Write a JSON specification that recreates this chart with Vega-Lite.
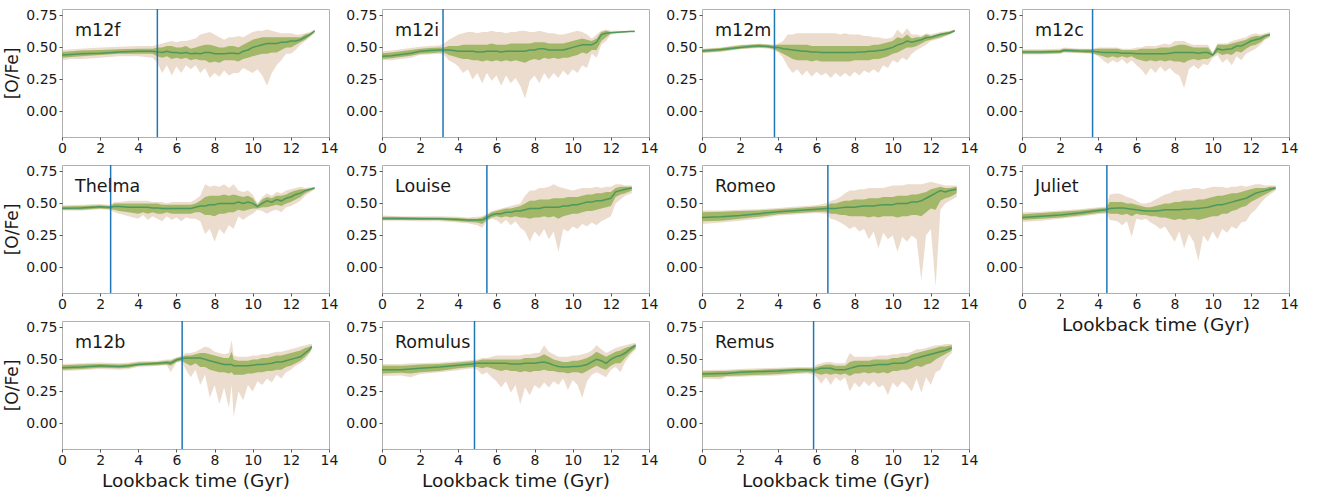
{
"$schema": "https://vega.github.io/schema/vega-lite/v6.json",
"padding": {"left": 3, "top": 7, "right": 5, "bottom": 5},
"columns": 4,
"spacing": {"row": 28, "column": 53},
"bounds": "flush",
"config": {
  "font": "DejaVu Sans",
  "view": {"stroke": "#b0b0b0", "strokeWidth": 1},
  "axis": {"labelFont": "DejaVu Sans", "labelFontSize": 14, "labelColor": "#1a1a1a", "titleFont": "DejaVu Sans", "titleFontSize": 18.5, "titleFontWeight": "normal", "titleColor": "#1a1a1a", "grid": false, "domain": false, "tickColor": "#555555", "tickSize": 3, "labelPadding": 2, "titlePadding": 4, "labelFlush": false},
  "axisY": {"titleFontSize": 17},
  "axisX": {"labelPadding": 1},
  "title": {"anchor": "start", "frame": "group", "orient": "top", "offset": -31, "dx": 13, "fontSize": 17.5, "font": "DejaVu Sans", "fontWeight": "normal", "color": "#1a1a1a", "baseline": "top"}
},
"datasets": {
"m12f": [
{"t":0,"a":0.40,"b":0.48,"c":0.42,"d":0.465,"m":0.44},{"t":0.5,"a":0.41,"b":0.485,"c":0.425,"d":0.47,"m":0.445},{"t":1,"a":0.41,"b":0.49,"c":0.43,"d":0.475,"m":0.45},{"t":2,"a":0.42,"b":0.50,"c":0.44,"d":0.48,"m":0.455},{"t":3,"a":0.43,"b":0.505,"c":0.45,"d":0.485,"m":0.465},{"t":4,"a":0.43,"b":0.51,"c":0.45,"d":0.49,"m":0.47},{"t":4.75,"a":0.42,"b":0.51,"c":0.45,"d":0.49,"m":0.47},
{"t":5,"a":0.38,"b":0.52,"c":0.43,"d":0.50,"m":0.465},{"t":5.25,"a":0.30,"b":0.53,"c":0.42,"d":0.50,"m":0.46},{"t":5.5,"a":0.36,"b":0.54,"c":0.43,"d":0.51,"m":0.47},{"t":5.75,"a":0.28,"b":0.55,"c":0.41,"d":0.51,"m":0.46},{"t":6,"a":0.35,"b":0.54,"c":0.42,"d":0.50,"m":0.46},{"t":6.25,"a":0.30,"b":0.55,"c":0.41,"d":0.50,"m":0.455},{"t":6.5,"a":0.36,"b":0.55,"c":0.42,"d":0.51,"m":0.46},{"t":6.75,"a":0.33,"b":0.56,"c":0.40,"d":0.49,"m":0.45},{"t":7,"a":0.36,"b":0.57,"c":0.41,"d":0.50,"m":0.455},{"t":7.25,"a":0.30,"b":0.60,"c":0.40,"d":0.51,"m":0.45},{"t":7.5,"a":0.34,"b":0.61,"c":0.40,"d":0.52,"m":0.46},{"t":7.75,"a":0.26,"b":0.62,"c":0.38,"d":0.52,"m":0.46},{"t":8,"a":0.30,"b":0.60,"c":0.39,"d":0.51,"m":0.45},{"t":8.25,"a":0.27,"b":0.58,"c":0.38,"d":0.50,"m":0.45},{"t":8.5,"a":0.32,"b":0.56,"c":0.40,"d":0.50,"m":0.45},{"t":8.75,"a":0.28,"b":0.58,"c":0.40,"d":0.51,"m":0.455},{"t":9,"a":0.30,"b":0.58,"c":0.40,"d":0.51,"m":0.455},{"t":9.25,"a":0.30,"b":0.59,"c":0.39,"d":0.50,"m":0.45},{"t":9.5,"a":0.34,"b":0.58,"c":0.41,"d":0.52,"m":0.47},{"t":9.75,"a":0.32,"b":0.60,"c":0.42,"d":0.54,"m":0.48},{"t":10,"a":0.30,"b":0.62,"c":0.43,"d":0.56,"m":0.50},{"t":10.25,"a":0.33,"b":0.63,"c":0.44,"d":0.57,"m":0.51},{"t":10.5,"a":0.28,"b":0.63,"c":0.45,"d":0.58,"m":0.52},{"t":10.75,"a":0.20,"b":0.64,"c":0.45,"d":0.58,"m":0.53},{"t":11,"a":0.30,"b":0.63,"c":0.46,"d":0.58,"m":0.53},{"t":11.25,"a":0.36,"b":0.62,"c":0.46,"d":0.58,"m":0.53},{"t":11.5,"a":0.40,"b":0.61,"c":0.48,"d":0.58,"m":0.54},{"t":11.75,"a":0.45,"b":0.61,"c":0.50,"d":0.58,"m":0.54},{"t":12,"a":0.45,"b":0.61,"c":0.50,"d":0.58,"m":0.55},{"t":12.25,"a":0.48,"b":0.60,"c":0.52,"d":0.58,"m":0.55},{"t":12.5,"a":0.52,"b":0.60,"c":0.54,"d":0.58,"m":0.56},{"t":12.75,"a":0.55,"b":0.61,"c":0.56,"d":0.60,"m":0.58},{"t":13,"a":0.58,"b":0.62,"c":0.59,"d":0.61,"m":0.60},{"t":13.25,"a":0.61,"b":0.64,"c":0.62,"d":0.63,"m":0.63}
],
"m12i": [
{"t":0,"a":0.40,"b":0.47,"c":0.41,"d":0.455,"m":0.43},{"t":0.5,"a":0.40,"b":0.475,"c":0.415,"d":0.46,"m":0.435},{"t":1,"a":0.41,"b":0.485,"c":0.425,"d":0.47,"m":0.445},{"t":1.5,"a":0.42,"b":0.495,"c":0.435,"d":0.48,"m":0.455},{"t":2,"a":0.44,"b":0.505,"c":0.45,"d":0.49,"m":0.47},{"t":2.5,"a":0.445,"b":0.51,"c":0.455,"d":0.495,"m":0.475},{"t":3,"a":0.45,"b":0.515,"c":0.46,"d":0.50,"m":0.48},
{"t":3.25,"a":0.44,"b":0.53,"c":0.46,"d":0.50,"m":0.48},{"t":3.5,"a":0.40,"b":0.56,"c":0.44,"d":0.51,"m":0.48},{"t":3.75,"a":0.38,"b":0.58,"c":0.43,"d":0.51,"m":0.475},{"t":4,"a":0.35,"b":0.60,"c":0.42,"d":0.51,"m":0.47},{"t":4.25,"a":0.30,"b":0.61,"c":0.41,"d":0.52,"m":0.47},{"t":4.5,"a":0.33,"b":0.62,"c":0.41,"d":0.52,"m":0.47},{"t":4.75,"a":0.25,"b":0.62,"c":0.40,"d":0.52,"m":0.47},{"t":5,"a":0.30,"b":0.61,"c":0.40,"d":0.52,"m":0.465},{"t":5.25,"a":0.22,"b":0.62,"c":0.39,"d":0.52,"m":0.465},{"t":5.5,"a":0.30,"b":0.62,"c":0.40,"d":0.52,"m":0.47},{"t":5.75,"a":0.24,"b":0.63,"c":0.39,"d":0.53,"m":0.47},{"t":6,"a":0.28,"b":0.62,"c":0.40,"d":0.52,"m":0.47},{"t":6.25,"a":0.20,"b":0.62,"c":0.39,"d":0.52,"m":0.465},{"t":6.5,"a":0.28,"b":0.61,"c":0.40,"d":0.52,"m":0.47},{"t":6.75,"a":0.22,"b":0.62,"c":0.39,"d":0.53,"m":0.47},{"t":7,"a":0.26,"b":0.62,"c":0.40,"d":0.53,"m":0.47},{"t":7.25,"a":0.20,"b":0.63,"c":0.39,"d":0.53,"m":0.47},{"t":7.5,"a":0.10,"b":0.63,"c":0.38,"d":0.53,"m":0.47},{"t":7.75,"a":0.24,"b":0.62,"c":0.40,"d":0.53,"m":0.48},{"t":8,"a":0.28,"b":0.62,"c":0.41,"d":0.54,"m":0.48},{"t":8.25,"a":0.22,"b":0.63,"c":0.40,"d":0.54,"m":0.49},{"t":8.5,"a":0.30,"b":0.62,"c":0.42,"d":0.54,"m":0.49},{"t":8.75,"a":0.25,"b":0.61,"c":0.41,"d":0.53,"m":0.48},{"t":9,"a":0.30,"b":0.61,"c":0.42,"d":0.53,"m":0.48},{"t":9.25,"a":0.26,"b":0.60,"c":0.41,"d":0.53,"m":0.48},{"t":9.5,"a":0.32,"b":0.60,"c":0.42,"d":0.53,"m":0.48},{"t":9.75,"a":0.28,"b":0.61,"c":0.42,"d":0.54,"m":0.49},{"t":10,"a":0.33,"b":0.62,"c":0.43,"d":0.55,"m":0.50},{"t":10.25,"a":0.30,"b":0.63,"c":0.44,"d":0.56,"m":0.51},{"t":10.5,"a":0.36,"b":0.62,"c":0.46,"d":0.57,"m":0.52},{"t":10.75,"a":0.34,"b":0.60,"c":0.45,"d":0.56,"m":0.52},{"t":11,"a":0.45,"b":0.57,"c":0.48,"d":0.55,"m":0.52},{"t":11.25,"a":0.42,"b":0.60,"c":0.48,"d":0.57,"m":0.54},{"t":11.5,"a":0.52,"b":0.63,"c":0.55,"d":0.62,"m":0.60},{"t":11.75,"a":0.55,"b":0.64,"c":0.58,"d":0.63,"m":0.61},{"t":12,"a":0.60,"b":0.63,"c":0.61,"d":0.62,"m":0.615},{"t":12.5,"a":0.61,"b":0.63,"c":0.615,"d":0.625,"m":0.62},{"t":13,"a":0.62,"b":0.63,"c":0.62,"d":0.63,"m":0.625},{"t":13.25,"a":0.62,"b":0.63,"c":0.62,"d":0.63,"m":0.625}
],
"m12m": [
{"t":0,"a":0.455,"b":0.49,"c":0.46,"d":0.485,"m":0.472},{"t":0.5,"a":0.46,"b":0.495,"c":0.465,"d":0.49,"m":0.478},{"t":1,"a":0.465,"b":0.50,"c":0.47,"d":0.495,"m":0.483},{"t":1.5,"a":0.475,"b":0.51,"c":0.48,"d":0.505,"m":0.492},{"t":2,"a":0.485,"b":0.52,"c":0.49,"d":0.515,"m":0.50},{"t":2.5,"a":0.49,"b":0.525,"c":0.495,"d":0.52,"m":0.507},{"t":3,"a":0.495,"b":0.53,"c":0.50,"d":0.525,"m":0.512},{"t":3.5,"a":0.49,"b":0.525,"c":0.495,"d":0.52,"m":0.507},{"t":3.75,"a":0.48,"b":0.52,"c":0.49,"d":0.515,"m":0.50},
{"t":4,"a":0.46,"b":0.53,"c":0.47,"d":0.52,"m":0.50},{"t":4.25,"a":0.42,"b":0.55,"c":0.45,"d":0.52,"m":0.49},{"t":4.5,"a":0.35,"b":0.60,"c":0.43,"d":0.52,"m":0.485},{"t":4.75,"a":0.30,"b":0.60,"c":0.41,"d":0.52,"m":0.48},{"t":5,"a":0.33,"b":0.61,"c":0.40,"d":0.52,"m":0.475},{"t":5.25,"a":0.28,"b":0.61,"c":0.40,"d":0.52,"m":0.47},{"t":5.5,"a":0.32,"b":0.61,"c":0.40,"d":0.52,"m":0.47},{"t":5.75,"a":0.27,"b":0.61,"c":0.39,"d":0.51,"m":0.465},{"t":6,"a":0.31,"b":0.61,"c":0.40,"d":0.51,"m":0.465},{"t":6.25,"a":0.28,"b":0.61,"c":0.39,"d":0.51,"m":0.46},{"t":6.5,"a":0.30,"b":0.61,"c":0.39,"d":0.51,"m":0.46},{"t":6.75,"a":0.26,"b":0.61,"c":0.39,"d":0.51,"m":0.46},{"t":7,"a":0.30,"b":0.61,"c":0.39,"d":0.51,"m":0.46},{"t":7.25,"a":0.27,"b":0.60,"c":0.39,"d":0.51,"m":0.46},{"t":7.5,"a":0.30,"b":0.61,"c":0.39,"d":0.51,"m":0.46},{"t":7.75,"a":0.27,"b":0.60,"c":0.39,"d":0.51,"m":0.46},{"t":8,"a":0.31,"b":0.60,"c":0.40,"d":0.51,"m":0.46},{"t":8.25,"a":0.28,"b":0.60,"c":0.40,"d":0.51,"m":0.465},{"t":8.5,"a":0.32,"b":0.59,"c":0.40,"d":0.51,"m":0.465},{"t":8.75,"a":0.30,"b":0.59,"c":0.40,"d":0.51,"m":0.47},{"t":9,"a":0.33,"b":0.58,"c":0.41,"d":0.52,"m":0.47},{"t":9.25,"a":0.30,"b":0.58,"c":0.41,"d":0.52,"m":0.475},{"t":9.5,"a":0.36,"b":0.57,"c":0.42,"d":0.53,"m":0.48},{"t":9.75,"a":0.34,"b":0.57,"c":0.43,"d":0.54,"m":0.49},{"t":10,"a":0.40,"b":0.58,"c":0.45,"d":0.55,"m":0.50},{"t":10.25,"a":0.38,"b":0.64,"c":0.46,"d":0.58,"m":0.52},{"t":10.5,"a":0.42,"b":0.60,"c":0.48,"d":0.57,"m":0.53},{"t":10.75,"a":0.40,"b":0.65,"c":0.50,"d":0.60,"m":0.55},{"t":11,"a":0.45,"b":0.60,"c":0.50,"d":0.57,"m":0.54},{"t":11.25,"a":0.48,"b":0.60,"c":0.51,"d":0.58,"m":0.55},{"t":11.5,"a":0.50,"b":0.59,"c":0.53,"d":0.58,"m":0.56},{"t":11.75,"a":0.52,"b":0.61,"c":0.55,"d":0.60,"m":0.575},{"t":12,"a":0.55,"b":0.60,"c":0.56,"d":0.59,"m":0.58},{"t":12.5,"a":0.57,"b":0.62,"c":0.58,"d":0.61,"m":0.60},{"t":13,"a":0.60,"b":0.63,"c":0.605,"d":0.625,"m":0.615},{"t":13.25,"a":0.62,"b":0.64,"c":0.625,"d":0.635,"m":0.63}
],
"m12c": [
{"t":0,"a":0.445,"b":0.485,"c":0.45,"d":0.475,"m":0.465},{"t":1,"a":0.445,"b":0.485,"c":0.45,"d":0.475,"m":0.465},{"t":2,"a":0.45,"b":0.49,"c":0.455,"d":0.48,"m":0.468},{"t":2.2,"a":0.46,"b":0.50,"c":0.465,"d":0.49,"m":0.478},{"t":3,"a":0.455,"b":0.49,"c":0.46,"d":0.485,"m":0.472},{"t":3.7,"a":0.45,"b":0.49,"c":0.455,"d":0.485,"m":0.47},
{"t":4,"a":0.43,"b":0.50,"c":0.44,"d":0.49,"m":0.465},{"t":4.25,"a":0.40,"b":0.50,"c":0.43,"d":0.49,"m":0.46},{"t":4.5,"a":0.37,"b":0.50,"c":0.42,"d":0.49,"m":0.46},{"t":4.75,"a":0.40,"b":0.50,"c":0.43,"d":0.49,"m":0.46},{"t":5,"a":0.38,"b":0.50,"c":0.42,"d":0.49,"m":0.46},{"t":5.25,"a":0.41,"b":0.49,"c":0.43,"d":0.48,"m":0.455},{"t":5.5,"a":0.37,"b":0.49,"c":0.42,"d":0.48,"m":0.455},{"t":5.75,"a":0.40,"b":0.49,"c":0.43,"d":0.48,"m":0.455},{"t":6,"a":0.36,"b":0.50,"c":0.41,"d":0.48,"m":0.45},{"t":6.25,"a":0.33,"b":0.50,"c":0.40,"d":0.49,"m":0.45},{"t":6.5,"a":0.28,"b":0.51,"c":0.39,"d":0.49,"m":0.45},{"t":6.75,"a":0.34,"b":0.51,"c":0.40,"d":0.49,"m":0.45},{"t":7,"a":0.30,"b":0.51,"c":0.39,"d":0.49,"m":0.45},{"t":7.25,"a":0.35,"b":0.52,"c":0.40,"d":0.50,"m":0.45},{"t":7.5,"a":0.31,"b":0.53,"c":0.39,"d":0.50,"m":0.45},{"t":7.75,"a":0.34,"b":0.52,"c":0.40,"d":0.50,"m":0.455},{"t":8,"a":0.30,"b":0.55,"c":0.39,"d":0.51,"m":0.46},{"t":8.25,"a":0.28,"b":0.55,"c":0.39,"d":0.52,"m":0.46},{"t":8.5,"a":0.18,"b":0.55,"c":0.38,"d":0.52,"m":0.46},{"t":8.75,"a":0.33,"b":0.53,"c":0.40,"d":0.51,"m":0.46},{"t":9,"a":0.36,"b":0.52,"c":0.41,"d":0.50,"m":0.46},{"t":9.25,"a":0.33,"b":0.52,"c":0.40,"d":0.50,"m":0.455},{"t":9.5,"a":0.37,"b":0.52,"c":0.41,"d":0.50,"m":0.46},{"t":9.75,"a":0.36,"b":0.52,"c":0.41,"d":0.50,"m":0.46},{"t":10,"a":0.42,"b":0.46,"c":0.43,"d":0.45,"m":0.44},{"t":10.25,"a":0.44,"b":0.53,"c":0.46,"d":0.52,"m":0.49},{"t":10.5,"a":0.38,"b":0.53,"c":0.44,"d":0.52,"m":0.48},{"t":10.75,"a":0.41,"b":0.53,"c":0.45,"d":0.52,"m":0.485},{"t":11,"a":0.36,"b":0.55,"c":0.44,"d":0.53,"m":0.49},{"t":11.25,"a":0.43,"b":0.56,"c":0.47,"d":0.54,"m":0.51},{"t":11.5,"a":0.40,"b":0.57,"c":0.46,"d":0.55,"m":0.51},{"t":11.75,"a":0.45,"b":0.58,"c":0.49,"d":0.56,"m":0.53},{"t":12,"a":0.47,"b":0.60,"c":0.51,"d":0.58,"m":0.55},{"t":12.25,"a":0.49,"b":0.61,"c":0.52,"d":0.59,"m":0.56},{"t":12.5,"a":0.52,"b":0.60,"c":0.54,"d":0.59,"m":0.57},{"t":12.75,"a":0.56,"b":0.61,"c":0.57,"d":0.60,"m":0.59},{"t":13,"a":0.58,"b":0.62,"c":0.59,"d":0.61,"m":0.60}
],
"Thelma": [
{"t":0,"a":0.445,"b":0.485,"c":0.45,"d":0.475,"m":0.463},{"t":1,"a":0.445,"b":0.49,"c":0.45,"d":0.48,"m":0.465},{"t":2,"a":0.455,"b":0.495,"c":0.46,"d":0.485,"m":0.473},{"t":2.5,"a":0.45,"b":0.49,"c":0.455,"d":0.48,"m":0.47},
{"t":2.75,"a":0.43,"b":0.51,"c":0.45,"d":0.50,"m":0.475},{"t":3,"a":0.42,"b":0.51,"c":0.44,"d":0.50,"m":0.475},{"t":3.5,"a":0.40,"b":0.52,"c":0.43,"d":0.50,"m":0.47},{"t":4,"a":0.38,"b":0.52,"c":0.42,"d":0.50,"m":0.47},{"t":4.25,"a":0.41,"b":0.52,"c":0.43,"d":0.50,"m":0.47},{"t":4.5,"a":0.37,"b":0.52,"c":0.42,"d":0.50,"m":0.47},{"t":4.75,"a":0.40,"b":0.51,"c":0.43,"d":0.50,"m":0.465},{"t":5,"a":0.38,"b":0.51,"c":0.42,"d":0.50,"m":0.465},{"t":5.25,"a":0.36,"b":0.51,"c":0.42,"d":0.49,"m":0.46},{"t":5.5,"a":0.40,"b":0.50,"c":0.43,"d":0.49,"m":0.46},{"t":5.75,"a":0.37,"b":0.51,"c":0.42,"d":0.49,"m":0.46},{"t":6,"a":0.39,"b":0.51,"c":0.42,"d":0.49,"m":0.46},{"t":6.25,"a":0.36,"b":0.51,"c":0.42,"d":0.49,"m":0.46},{"t":6.5,"a":0.39,"b":0.51,"c":0.42,"d":0.49,"m":0.46},{"t":6.75,"a":0.38,"b":0.51,"c":0.42,"d":0.49,"m":0.46},{"t":7,"a":0.38,"b":0.53,"c":0.43,"d":0.50,"m":0.47},{"t":7.25,"a":0.36,"b":0.56,"c":0.43,"d":0.52,"m":0.48},{"t":7.5,"a":0.26,"b":0.65,"c":0.41,"d":0.55,"m":0.48},{"t":7.75,"a":0.30,"b":0.63,"c":0.41,"d":0.56,"m":0.49},{"t":8,"a":0.20,"b":0.64,"c":0.40,"d":0.56,"m":0.49},{"t":8.25,"a":0.30,"b":0.63,"c":0.42,"d":0.56,"m":0.50},{"t":8.5,"a":0.26,"b":0.65,"c":0.42,"d":0.57,"m":0.50},{"t":8.75,"a":0.33,"b":0.62,"c":0.43,"d":0.56,"m":0.50},{"t":9,"a":0.30,"b":0.65,"c":0.43,"d":0.57,"m":0.50},{"t":9.25,"a":0.40,"b":0.60,"c":0.45,"d":0.56,"m":0.51},{"t":9.5,"a":0.37,"b":0.59,"c":0.44,"d":0.55,"m":0.50},{"t":9.75,"a":0.40,"b":0.60,"c":0.45,"d":0.56,"m":0.51},{"t":10,"a":0.42,"b":0.57,"c":0.46,"d":0.54,"m":0.50},{"t":10.25,"a":0.45,"b":0.50,"c":0.46,"d":0.49,"m":0.475},{"t":10.5,"a":0.44,"b":0.55,"c":0.47,"d":0.53,"m":0.50},{"t":10.75,"a":0.42,"b":0.58,"c":0.47,"d":0.55,"m":0.52},{"t":11,"a":0.44,"b":0.56,"c":0.48,"d":0.54,"m":0.51},{"t":11.25,"a":0.45,"b":0.59,"c":0.49,"d":0.56,"m":0.53},{"t":11.5,"a":0.43,"b":0.58,"c":0.48,"d":0.56,"m":0.52},{"t":11.75,"a":0.47,"b":0.60,"c":0.50,"d":0.57,"m":0.54},{"t":12,"a":0.48,"b":0.61,"c":0.51,"d":0.59,"m":0.55},{"t":12.25,"a":0.50,"b":0.62,"c":0.53,"d":0.60,"m":0.57},{"t":12.5,"a":0.52,"b":0.63,"c":0.55,"d":0.61,"m":0.58},{"t":12.75,"a":0.56,"b":0.62,"c":0.58,"d":0.61,"m":0.60},{"t":13.25,"a":0.61,"b":0.63,"c":0.615,"d":0.625,"m":0.62}
],
"Louise": [
{"t":0,"a":0.365,"b":0.405,"c":0.37,"d":0.395,"m":0.383},{"t":1,"a":0.365,"b":0.40,"c":0.37,"d":0.393,"m":0.382},{"t":2,"a":0.36,"b":0.40,"c":0.37,"d":0.392,"m":0.381},{"t":3,"a":0.36,"b":0.40,"c":0.37,"d":0.39,"m":0.38},{"t":4,"a":0.35,"b":0.395,"c":0.36,"d":0.385,"m":0.375},{"t":4.5,"a":0.345,"b":0.39,"c":0.355,"d":0.38,"m":0.37},{"t":5,"a":0.33,"b":0.395,"c":0.35,"d":0.38,"m":0.37},{"t":5.25,"a":0.31,"b":0.40,"c":0.34,"d":0.39,"m":0.37},
{"t":5.5,"a":0.36,"b":0.42,"c":0.37,"d":0.41,"m":0.39},{"t":5.75,"a":0.38,"b":0.44,"c":0.39,"d":0.43,"m":0.41},{"t":6,"a":0.37,"b":0.45,"c":0.40,"d":0.44,"m":0.42},{"t":6.25,"a":0.34,"b":0.46,"c":0.39,"d":0.45,"m":0.42},{"t":6.5,"a":0.37,"b":0.47,"c":0.40,"d":0.46,"m":0.43},{"t":6.75,"a":0.33,"b":0.48,"c":0.39,"d":0.46,"m":0.43},{"t":7,"a":0.36,"b":0.49,"c":0.40,"d":0.47,"m":0.44},{"t":7.25,"a":0.31,"b":0.50,"c":0.39,"d":0.48,"m":0.44},{"t":7.5,"a":0.28,"b":0.56,"c":0.39,"d":0.50,"m":0.45},{"t":7.75,"a":0.20,"b":0.60,"c":0.38,"d":0.52,"m":0.46},{"t":8,"a":0.28,"b":0.60,"c":0.39,"d":0.52,"m":0.46},{"t":8.25,"a":0.24,"b":0.62,"c":0.39,"d":0.53,"m":0.46},{"t":8.5,"a":0.30,"b":0.62,"c":0.40,"d":0.53,"m":0.47},{"t":8.75,"a":0.22,"b":0.63,"c":0.39,"d":0.53,"m":0.47},{"t":9,"a":0.28,"b":0.65,"c":0.40,"d":0.54,"m":0.47},{"t":9.25,"a":0.12,"b":0.63,"c":0.38,"d":0.54,"m":0.47},{"t":9.5,"a":0.30,"b":0.62,"c":0.40,"d":0.54,"m":0.48},{"t":9.75,"a":0.28,"b":0.61,"c":0.41,"d":0.55,"m":0.48},{"t":10,"a":0.32,"b":0.60,"c":0.42,"d":0.55,"m":0.49},{"t":10.25,"a":0.30,"b":0.61,"c":0.42,"d":0.55,"m":0.49},{"t":10.5,"a":0.34,"b":0.62,"c":0.43,"d":0.56,"m":0.50},{"t":10.75,"a":0.32,"b":0.62,"c":0.44,"d":0.57,"m":0.51},{"t":11,"a":0.35,"b":0.62,"c":0.44,"d":0.57,"m":0.51},{"t":11.25,"a":0.33,"b":0.63,"c":0.45,"d":0.58,"m":0.52},{"t":11.5,"a":0.36,"b":0.62,"c":0.46,"d":0.58,"m":0.52},{"t":11.75,"a":0.38,"b":0.63,"c":0.47,"d":0.59,"m":0.53},{"t":12,"a":0.40,"b":0.63,"c":0.48,"d":0.59,"m":0.54},{"t":12.25,"a":0.50,"b":0.65,"c":0.55,"d":0.62,"m":0.59},{"t":12.5,"a":0.53,"b":0.65,"c":0.57,"d":0.63,"m":0.60},{"t":12.75,"a":0.56,"b":0.64,"c":0.58,"d":0.63,"m":0.61},{"t":13.1,"a":0.58,"b":0.64,"c":0.60,"d":0.63,"m":0.62}
],
"Romeo": [
{"t":0,"a":0.34,"b":0.445,"c":0.36,"d":0.43,"m":0.39},{"t":1,"a":0.35,"b":0.445,"c":0.365,"d":0.435,"m":0.395},{"t":2,"a":0.365,"b":0.45,"c":0.38,"d":0.44,"m":0.405},{"t":3,"a":0.38,"b":0.455,"c":0.395,"d":0.445,"m":0.42},{"t":4,"a":0.405,"b":0.465,"c":0.415,"d":0.455,"m":0.435},{"t":5,"a":0.415,"b":0.475,"c":0.425,"d":0.465,"m":0.445},{"t":6,"a":0.425,"b":0.485,"c":0.435,"d":0.475,"m":0.455},{"t":6.5,"a":0.42,"b":0.50,"c":0.435,"d":0.48,"m":0.46},
{"t":6.75,"a":0.38,"b":0.52,"c":0.42,"d":0.50,"m":0.46},{"t":7,"a":0.37,"b":0.53,"c":0.42,"d":0.50,"m":0.46},{"t":7.25,"a":0.35,"b":0.55,"c":0.41,"d":0.51,"m":0.465},{"t":7.5,"a":0.33,"b":0.58,"c":0.41,"d":0.52,"m":0.47},{"t":7.75,"a":0.30,"b":0.60,"c":0.40,"d":0.52,"m":0.47},{"t":8,"a":0.32,"b":0.60,"c":0.40,"d":0.53,"m":0.47},{"t":8.25,"a":0.28,"b":0.61,"c":0.40,"d":0.53,"m":0.475},{"t":8.5,"a":0.30,"b":0.61,"c":0.40,"d":0.53,"m":0.48},{"t":8.75,"a":0.22,"b":0.62,"c":0.39,"d":0.54,"m":0.48},{"t":9,"a":0.28,"b":0.62,"c":0.40,"d":0.54,"m":0.48},{"t":9.25,"a":0.15,"b":0.62,"c":0.39,"d":0.54,"m":0.485},{"t":9.5,"a":0.27,"b":0.62,"c":0.40,"d":0.55,"m":0.49},{"t":9.75,"a":0.22,"b":0.63,"c":0.40,"d":0.55,"m":0.49},{"t":10,"a":0.25,"b":0.64,"c":0.40,"d":0.55,"m":0.49},{"t":10.25,"a":0.12,"b":0.64,"c":0.39,"d":0.56,"m":0.50},{"t":10.5,"a":0.24,"b":0.64,"c":0.40,"d":0.56,"m":0.50},{"t":10.75,"a":0.20,"b":0.65,"c":0.40,"d":0.56,"m":0.50},{"t":11,"a":0.25,"b":0.65,"c":0.41,"d":0.57,"m":0.51},{"t":11.25,"a":0.22,"b":0.65,"c":0.41,"d":0.57,"m":0.51},{"t":11.5,"a":-0.10,"b":0.65,"c":0.40,"d":0.58,"m":0.52},{"t":11.75,"a":0.25,"b":0.66,"c":0.43,"d":0.59,"m":0.54},{"t":12,"a":0.30,"b":0.67,"c":0.46,"d":0.61,"m":0.56},{"t":12.25,"a":-0.15,"b":0.66,"c":0.45,"d":0.62,"m":0.58},{"t":12.5,"a":0.45,"b":0.65,"c":0.52,"d":0.63,"m":0.60},{"t":12.75,"a":0.50,"b":0.64,"c":0.54,"d":0.62,"m":0.59},{"t":13,"a":0.52,"b":0.64,"c":0.55,"d":0.62,"m":0.60},{"t":13.35,"a":0.55,"b":0.64,"c":0.58,"d":0.63,"m":0.61}
],
"Juliet": [
{"t":0,"a":0.355,"b":0.43,"c":0.37,"d":0.415,"m":0.39},{"t":1,"a":0.365,"b":0.435,"c":0.38,"d":0.425,"m":0.40},{"t":2,"a":0.38,"b":0.445,"c":0.39,"d":0.435,"m":0.41},{"t":3,"a":0.395,"b":0.455,"c":0.405,"d":0.445,"m":0.425},{"t":4,"a":0.415,"b":0.47,"c":0.425,"d":0.46,"m":0.445},{"t":4.4,"a":0.42,"b":0.475,"c":0.43,"d":0.465,"m":0.45},
{"t":4.6,"a":0.37,"b":0.57,"c":0.42,"d":0.51,"m":0.46},{"t":5,"a":0.36,"b":0.58,"c":0.42,"d":0.51,"m":0.465},{"t":5.25,"a":0.33,"b":0.57,"c":0.41,"d":0.51,"m":0.465},{"t":5.5,"a":0.36,"b":0.55,"c":0.42,"d":0.50,"m":0.46},{"t":5.75,"a":0.24,"b":0.54,"c":0.40,"d":0.50,"m":0.455},{"t":6,"a":0.38,"b":0.52,"c":0.42,"d":0.49,"m":0.45},{"t":6.25,"a":0.37,"b":0.50,"c":0.41,"d":0.48,"m":0.445},{"t":6.5,"a":0.38,"b":0.50,"c":0.41,"d":0.47,"m":0.44},{"t":6.75,"a":0.35,"b":0.51,"c":0.40,"d":0.47,"m":0.44},{"t":7,"a":0.33,"b":0.53,"c":0.40,"d":0.48,"m":0.44},{"t":7.25,"a":0.30,"b":0.55,"c":0.39,"d":0.49,"m":0.445},{"t":7.5,"a":0.32,"b":0.57,"c":0.39,"d":0.50,"m":0.45},{"t":7.75,"a":0.26,"b":0.58,"c":0.38,"d":0.50,"m":0.45},{"t":8,"a":0.20,"b":0.60,"c":0.37,"d":0.51,"m":0.45},{"t":8.25,"a":0.28,"b":0.60,"c":0.38,"d":0.51,"m":0.45},{"t":8.5,"a":0.15,"b":0.61,"c":0.37,"d":0.52,"m":0.455},{"t":8.75,"a":0.26,"b":0.61,"c":0.38,"d":0.52,"m":0.455},{"t":9,"a":0.20,"b":0.62,"c":0.38,"d":0.52,"m":0.46},{"t":9.25,"a":0.05,"b":0.62,"c":0.37,"d":0.53,"m":0.46},{"t":9.5,"a":0.25,"b":0.61,"c":0.38,"d":0.53,"m":0.465},{"t":9.75,"a":0.20,"b":0.62,"c":0.39,"d":0.54,"m":0.47},{"t":10,"a":0.28,"b":0.63,"c":0.40,"d":0.55,"m":0.48},{"t":10.25,"a":0.22,"b":0.63,"c":0.40,"d":0.56,"m":0.49},{"t":10.5,"a":0.30,"b":0.63,"c":0.42,"d":0.56,"m":0.49},{"t":10.75,"a":0.27,"b":0.62,"c":0.42,"d":0.57,"m":0.50},{"t":11,"a":0.32,"b":0.63,"c":0.44,"d":0.58,"m":0.51},{"t":11.25,"a":0.30,"b":0.63,"c":0.45,"d":0.58,"m":0.52},{"t":11.5,"a":0.35,"b":0.64,"c":0.47,"d":0.59,"m":0.53},{"t":11.75,"a":0.36,"b":0.63,"c":0.48,"d":0.60,"m":0.54},{"t":12,"a":0.42,"b":0.64,"c":0.51,"d":0.61,"m":0.56},{"t":12.25,"a":0.45,"b":0.65,"c":0.53,"d":0.62,"m":0.58},{"t":12.5,"a":0.50,"b":0.65,"c":0.55,"d":0.62,"m":0.59},{"t":12.75,"a":0.54,"b":0.64,"c":0.57,"d":0.62,"m":0.60},{"t":13,"a":0.57,"b":0.64,"c":0.59,"d":0.63,"m":0.61},{"t":13.3,"a":0.60,"b":0.64,"c":0.61,"d":0.63,"m":0.62}
],
"m12b": [
{"t":0,"a":0.41,"b":0.465,"c":0.42,"d":0.455,"m":0.435},{"t":1,"a":0.415,"b":0.47,"c":0.425,"d":0.46,"m":0.44},{"t":2,"a":0.425,"b":0.475,"c":0.435,"d":0.465,"m":0.45},{"t":3,"a":0.42,"b":0.47,"c":0.43,"d":0.46,"m":0.445},{"t":3.5,"a":0.425,"b":0.475,"c":0.435,"d":0.465,"m":0.45},{"t":4,"a":0.44,"b":0.485,"c":0.45,"d":0.475,"m":0.46},{"t":5,"a":0.45,"b":0.49,"c":0.455,"d":0.48,"m":0.47},{"t":5.5,"a":0.455,"b":0.50,"c":0.46,"d":0.49,"m":0.475},{"t":5.7,"a":0.40,"b":0.50,"c":0.45,"d":0.49,"m":0.47},{"t":6,"a":0.475,"b":0.515,"c":0.48,"d":0.51,"m":0.495},{"t":6.25,"a":0.485,"b":0.525,"c":0.49,"d":0.52,"m":0.505},
{"t":6.5,"a":0.42,"b":0.55,"c":0.47,"d":0.53,"m":0.51},{"t":6.75,"a":0.36,"b":0.55,"c":0.45,"d":0.53,"m":0.51},{"t":7,"a":0.42,"b":0.56,"c":0.47,"d":0.54,"m":0.51},{"t":7.25,"a":0.30,"b":0.58,"c":0.44,"d":0.55,"m":0.51},{"t":7.5,"a":0.38,"b":0.60,"c":0.44,"d":0.55,"m":0.50},{"t":7.75,"a":0.20,"b":0.59,"c":0.42,"d":0.54,"m":0.49},{"t":8,"a":0.30,"b":0.56,"c":0.41,"d":0.53,"m":0.48},{"t":8.25,"a":0.15,"b":0.55,"c":0.40,"d":0.52,"m":0.47},{"t":8.5,"a":0.28,"b":0.54,"c":0.40,"d":0.51,"m":0.46},{"t":8.75,"a":0.12,"b":0.55,"c":0.39,"d":0.51,"m":0.46},{"t":8.9,"a":0.30,"b":0.65,"c":0.40,"d":0.56,"m":0.46},{"t":9,"a":0.05,"b":0.53,"c":0.38,"d":0.50,"m":0.45},{"t":9.25,"a":0.25,"b":0.52,"c":0.38,"d":0.49,"m":0.45},{"t":9.5,"a":0.18,"b":0.52,"c":0.38,"d":0.49,"m":0.45},{"t":9.75,"a":0.30,"b":0.52,"c":0.39,"d":0.49,"m":0.45},{"t":10,"a":0.25,"b":0.53,"c":0.39,"d":0.50,"m":0.455},{"t":10.25,"a":0.33,"b":0.53,"c":0.40,"d":0.50,"m":0.46},{"t":10.5,"a":0.30,"b":0.54,"c":0.40,"d":0.51,"m":0.46},{"t":10.75,"a":0.35,"b":0.54,"c":0.41,"d":0.51,"m":0.465},{"t":11,"a":0.32,"b":0.55,"c":0.41,"d":0.52,"m":0.47},{"t":11.25,"a":0.38,"b":0.56,"c":0.42,"d":0.53,"m":0.48},{"t":11.5,"a":0.35,"b":0.56,"c":0.42,"d":0.53,"m":0.48},{"t":11.75,"a":0.40,"b":0.57,"c":0.44,"d":0.54,"m":0.49},{"t":12,"a":0.42,"b":0.58,"c":0.45,"d":0.55,"m":0.50},{"t":12.25,"a":0.45,"b":0.59,"c":0.47,"d":0.56,"m":0.51},{"t":12.5,"a":0.47,"b":0.60,"c":0.49,"d":0.57,"m":0.52},{"t":12.75,"a":0.50,"b":0.61,"c":0.52,"d":0.59,"m":0.55},{"t":13,"a":0.55,"b":0.62,"c":0.56,"d":0.60,"m":0.58},{"t":13.1,"a":0.58,"b":0.62,"c":0.59,"d":0.61,"m":0.60}
],
"Romulus": [
{"t":0,"a":0.37,"b":0.465,"c":0.39,"d":0.45,"m":0.42},{"t":1,"a":0.375,"b":0.465,"c":0.395,"d":0.45,"m":0.42},{"t":1.5,"a":0.36,"b":0.47,"c":0.39,"d":0.455,"m":0.425},{"t":2,"a":0.385,"b":0.47,"c":0.40,"d":0.46,"m":0.43},{"t":3,"a":0.40,"b":0.475,"c":0.41,"d":0.465,"m":0.44},{"t":4,"a":0.415,"b":0.485,"c":0.43,"d":0.475,"m":0.455},{"t":4.75,"a":0.43,"b":0.495,"c":0.44,"d":0.485,"m":0.465},
{"t":5,"a":0.42,"b":0.50,"c":0.44,"d":0.49,"m":0.47},{"t":5.25,"a":0.38,"b":0.51,"c":0.43,"d":0.50,"m":0.47},{"t":5.5,"a":0.40,"b":0.51,"c":0.44,"d":0.50,"m":0.47},{"t":5.75,"a":0.36,"b":0.52,"c":0.43,"d":0.50,"m":0.47},{"t":6,"a":0.33,"b":0.53,"c":0.42,"d":0.50,"m":0.47},{"t":6.25,"a":0.28,"b":0.53,"c":0.41,"d":0.50,"m":0.47},{"t":6.5,"a":0.33,"b":0.53,"c":0.42,"d":0.50,"m":0.47},{"t":6.75,"a":0.24,"b":0.53,"c":0.41,"d":0.50,"m":0.465},{"t":7,"a":0.30,"b":0.53,"c":0.41,"d":0.50,"m":0.465},{"t":7.25,"a":0.15,"b":0.53,"c":0.40,"d":0.50,"m":0.465},{"t":7.5,"a":0.28,"b":0.54,"c":0.41,"d":0.51,"m":0.47},{"t":7.75,"a":0.22,"b":0.54,"c":0.40,"d":0.51,"m":0.47},{"t":8,"a":0.30,"b":0.55,"c":0.41,"d":0.51,"m":0.47},{"t":8.25,"a":0.27,"b":0.55,"c":0.41,"d":0.52,"m":0.475},{"t":8.5,"a":0.32,"b":0.61,"c":0.42,"d":0.54,"m":0.48},{"t":8.75,"a":0.28,"b":0.56,"c":0.41,"d":0.52,"m":0.47},{"t":9,"a":0.33,"b":0.54,"c":0.41,"d":0.50,"m":0.455},{"t":9.25,"a":0.30,"b":0.52,"c":0.40,"d":0.49,"m":0.445},{"t":9.5,"a":0.35,"b":0.52,"c":0.40,"d":0.48,"m":0.44},{"t":9.75,"a":0.26,"b":0.52,"c":0.39,"d":0.48,"m":0.44},{"t":10,"a":0.34,"b":0.53,"c":0.40,"d":0.49,"m":0.445},{"t":10.25,"a":0.30,"b":0.53,"c":0.40,"d":0.49,"m":0.445},{"t":10.5,"a":0.20,"b":0.54,"c":0.39,"d":0.50,"m":0.45},{"t":10.75,"a":0.33,"b":0.55,"c":0.41,"d":0.51,"m":0.46},{"t":11,"a":0.38,"b":0.57,"c":0.43,"d":0.53,"m":0.48},{"t":11.25,"a":0.40,"b":0.61,"c":0.45,"d":0.56,"m":0.50},{"t":11.5,"a":0.38,"b":0.58,"c":0.43,"d":0.54,"m":0.49},{"t":11.75,"a":0.36,"b":0.55,"c":0.42,"d":0.52,"m":0.47},{"t":12,"a":0.42,"b":0.57,"c":0.45,"d":0.54,"m":0.50},{"t":12.25,"a":0.44,"b":0.59,"c":0.47,"d":0.56,"m":0.52},{"t":12.5,"a":0.40,"b":0.60,"c":0.47,"d":0.57,"m":0.53},{"t":12.75,"a":0.48,"b":0.61,"c":0.51,"d":0.59,"m":0.55},{"t":13,"a":0.53,"b":0.62,"c":0.55,"d":0.60,"m":0.58},{"t":13.3,"a":0.58,"b":0.63,"c":0.59,"d":0.62,"m":0.61}
],
"Remus": [
{"t":0,"a":0.35,"b":0.415,"c":0.36,"d":0.405,"m":0.385},{"t":1,"a":0.345,"b":0.42,"c":0.365,"d":0.41,"m":0.39},{"t":1.25,"a":0.36,"b":0.42,"c":0.37,"d":0.41,"m":0.39},{"t":2,"a":0.365,"b":0.425,"c":0.375,"d":0.415,"m":0.40},{"t":3,"a":0.37,"b":0.43,"c":0.38,"d":0.42,"m":0.405},{"t":4,"a":0.375,"b":0.435,"c":0.385,"d":0.425,"m":0.41},{"t":5,"a":0.385,"b":0.44,"c":0.395,"d":0.43,"m":0.42},{"t":5.5,"a":0.39,"b":0.44,"c":0.40,"d":0.43,"m":0.42},{"t":5.85,"a":0.38,"b":0.44,"c":0.395,"d":0.43,"m":0.415},
{"t":6,"a":0.36,"b":0.46,"c":0.39,"d":0.44,"m":0.42},{"t":6.25,"a":0.31,"b":0.47,"c":0.38,"d":0.45,"m":0.43},{"t":6.5,"a":0.36,"b":0.48,"c":0.39,"d":0.46,"m":0.43},{"t":6.75,"a":0.30,"b":0.48,"c":0.38,"d":0.46,"m":0.43},{"t":7,"a":0.36,"b":0.47,"c":0.39,"d":0.45,"m":0.42},{"t":7.25,"a":0.33,"b":0.47,"c":0.38,"d":0.45,"m":0.42},{"t":7.5,"a":0.36,"b":0.47,"c":0.39,"d":0.45,"m":0.42},{"t":7.75,"a":0.25,"b":0.55,"c":0.37,"d":0.48,"m":0.43},{"t":8,"a":0.32,"b":0.52,"c":0.39,"d":0.49,"m":0.44},{"t":8.25,"a":0.28,"b":0.52,"c":0.39,"d":0.49,"m":0.45},{"t":8.5,"a":0.33,"b":0.52,"c":0.40,"d":0.49,"m":0.45},{"t":8.75,"a":0.29,"b":0.52,"c":0.39,"d":0.49,"m":0.45},{"t":9,"a":0.33,"b":0.52,"c":0.40,"d":0.50,"m":0.455},{"t":9.25,"a":0.28,"b":0.53,"c":0.39,"d":0.50,"m":0.46},{"t":9.5,"a":0.30,"b":0.53,"c":0.40,"d":0.50,"m":0.46},{"t":9.75,"a":0.22,"b":0.53,"c":0.39,"d":0.50,"m":0.46},{"t":10,"a":0.32,"b":0.54,"c":0.41,"d":0.51,"m":0.47},{"t":10.25,"a":0.28,"b":0.54,"c":0.41,"d":0.51,"m":0.47},{"t":10.5,"a":0.33,"b":0.55,"c":0.42,"d":0.52,"m":0.47},{"t":10.75,"a":0.30,"b":0.55,"c":0.42,"d":0.52,"m":0.48},{"t":11,"a":0.25,"b":0.56,"c":0.43,"d":0.54,"m":0.50},{"t":11.25,"a":0.35,"b":0.58,"c":0.45,"d":0.55,"m":0.51},{"t":11.5,"a":0.24,"b":0.58,"c":0.44,"d":0.56,"m":0.52},{"t":11.75,"a":0.36,"b":0.59,"c":0.46,"d":0.57,"m":0.53},{"t":12,"a":0.30,"b":0.60,"c":0.47,"d":0.58,"m":0.54},{"t":12.25,"a":0.40,"b":0.61,"c":0.50,"d":0.59,"m":0.55},{"t":12.5,"a":0.42,"b":0.61,"c":0.52,"d":0.60,"m":0.56},{"t":12.75,"a":0.50,"b":0.62,"c":0.54,"d":0.60,"m":0.57},{"t":13.1,"a":0.55,"b":0.62,"c":0.57,"d":0.61,"m":0.59}
]
},
"concat": [
{"width":267,"height":128,"title":"m12f","encoding":{"x":{"field":"t","type":"quantitative","scale":{"domain":[0,14]},"axis":{"values":[0,2,4,6,8,10,12,14],"format":"d","title":null,"labelOverlap":false}}},"layer":[
  {"data":{"name":"m12f"},"mark":{"type":"area","color":"#d0a882","opacity":0.4},"encoding":{"y":{"field":"a","type":"quantitative","scale":{"domain":[-0.2,0.8]},"axis":{"values":[0,0.25,0.5,0.75],"format":".2f","title":"[O/Fe]"}},"y2":{"field":"b"}}},
  {"data":{"name":"m12f"},"mark":{"type":"area","color":"#95b055","opacity":0.85},"encoding":{"y":{"field":"c","type":"quantitative"},"y2":{"field":"d"}}},
  {"data":{"name":"m12f"},"mark":{"type":"line","color":"#2a8a5a","strokeWidth":1.5,"opacity":0.7},"encoding":{"y":{"field":"m","type":"quantitative"}}},
  {"data":{"values":[{"t":5.0}]},"mark":{"type":"rule","color":"#1f77b4","strokeWidth":1.5},"encoding":{}}
 ]},
{"width":267,"height":128,"title":"m12i","encoding":{"x":{"field":"t","type":"quantitative","scale":{"domain":[0,14]},"axis":{"values":[0,2,4,6,8,10,12,14],"format":"d","title":null,"labelOverlap":false}}},"layer":[
  {"data":{"name":"m12i"},"mark":{"type":"area","color":"#d0a882","opacity":0.4},"encoding":{"y":{"field":"a","type":"quantitative","scale":{"domain":[-0.2,0.8]},"axis":{"values":[0,0.25,0.5,0.75],"format":".2f","title":null}},"y2":{"field":"b"}}},
  {"data":{"name":"m12i"},"mark":{"type":"area","color":"#95b055","opacity":0.85},"encoding":{"y":{"field":"c","type":"quantitative"},"y2":{"field":"d"}}},
  {"data":{"name":"m12i"},"mark":{"type":"line","color":"#2a8a5a","strokeWidth":1.5,"opacity":0.7},"encoding":{"y":{"field":"m","type":"quantitative"}}},
  {"data":{"values":[{"t":3.2}]},"mark":{"type":"rule","color":"#1f77b4","strokeWidth":1.5},"encoding":{}}
 ]},
{"width":267,"height":128,"title":"m12m","encoding":{"x":{"field":"t","type":"quantitative","scale":{"domain":[0,14]},"axis":{"values":[0,2,4,6,8,10,12,14],"format":"d","title":null,"labelOverlap":false}}},"layer":[
  {"data":{"name":"m12m"},"mark":{"type":"area","color":"#d0a882","opacity":0.4},"encoding":{"y":{"field":"a","type":"quantitative","scale":{"domain":[-0.2,0.8]},"axis":{"values":[0,0.25,0.5,0.75],"format":".2f","title":null}},"y2":{"field":"b"}}},
  {"data":{"name":"m12m"},"mark":{"type":"area","color":"#95b055","opacity":0.85},"encoding":{"y":{"field":"c","type":"quantitative"},"y2":{"field":"d"}}},
  {"data":{"name":"m12m"},"mark":{"type":"line","color":"#2a8a5a","strokeWidth":1.5,"opacity":0.7},"encoding":{"y":{"field":"m","type":"quantitative"}}},
  {"data":{"values":[{"t":3.8}]},"mark":{"type":"rule","color":"#1f77b4","strokeWidth":1.5},"encoding":{}}
 ]},
{"width":267,"height":128,"title":"m12c","encoding":{"x":{"field":"t","type":"quantitative","scale":{"domain":[0,14]},"axis":{"values":[0,2,4,6,8,10,12,14],"format":"d","title":null,"labelOverlap":false}}},"layer":[
  {"data":{"name":"m12c"},"mark":{"type":"area","color":"#d0a882","opacity":0.4},"encoding":{"y":{"field":"a","type":"quantitative","scale":{"domain":[-0.2,0.8]},"axis":{"values":[0,0.25,0.5,0.75],"format":".2f","title":null}},"y2":{"field":"b"}}},
  {"data":{"name":"m12c"},"mark":{"type":"area","color":"#95b055","opacity":0.85},"encoding":{"y":{"field":"c","type":"quantitative"},"y2":{"field":"d"}}},
  {"data":{"name":"m12c"},"mark":{"type":"line","color":"#2a8a5a","strokeWidth":1.5,"opacity":0.7},"encoding":{"y":{"field":"m","type":"quantitative"}}},
  {"data":{"values":[{"t":3.7}]},"mark":{"type":"rule","color":"#1f77b4","strokeWidth":1.5},"encoding":{}}
 ]},
{"width":267,"height":128,"title":"Thelma","encoding":{"x":{"field":"t","type":"quantitative","scale":{"domain":[0,14]},"axis":{"values":[0,2,4,6,8,10,12,14],"format":"d","title":null,"labelOverlap":false}}},"layer":[
  {"data":{"name":"Thelma"},"mark":{"type":"area","color":"#d0a882","opacity":0.4},"encoding":{"y":{"field":"a","type":"quantitative","scale":{"domain":[-0.2,0.8]},"axis":{"values":[0,0.25,0.5,0.75],"format":".2f","title":"[O/Fe]"}},"y2":{"field":"b"}}},
  {"data":{"name":"Thelma"},"mark":{"type":"area","color":"#95b055","opacity":0.85},"encoding":{"y":{"field":"c","type":"quantitative"},"y2":{"field":"d"}}},
  {"data":{"name":"Thelma"},"mark":{"type":"line","color":"#2a8a5a","strokeWidth":1.5,"opacity":0.7},"encoding":{"y":{"field":"m","type":"quantitative"}}},
  {"data":{"values":[{"t":2.55}]},"mark":{"type":"rule","color":"#1f77b4","strokeWidth":1.5},"encoding":{}}
 ]},
{"width":267,"height":128,"title":"Louise","encoding":{"x":{"field":"t","type":"quantitative","scale":{"domain":[0,14]},"axis":{"values":[0,2,4,6,8,10,12,14],"format":"d","title":null,"labelOverlap":false}}},"layer":[
  {"data":{"name":"Louise"},"mark":{"type":"area","color":"#d0a882","opacity":0.4},"encoding":{"y":{"field":"a","type":"quantitative","scale":{"domain":[-0.2,0.8]},"axis":{"values":[0,0.25,0.5,0.75],"format":".2f","title":null}},"y2":{"field":"b"}}},
  {"data":{"name":"Louise"},"mark":{"type":"area","color":"#95b055","opacity":0.85},"encoding":{"y":{"field":"c","type":"quantitative"},"y2":{"field":"d"}}},
  {"data":{"name":"Louise"},"mark":{"type":"line","color":"#2a8a5a","strokeWidth":1.5,"opacity":0.7},"encoding":{"y":{"field":"m","type":"quantitative"}}},
  {"data":{"values":[{"t":5.5}]},"mark":{"type":"rule","color":"#1f77b4","strokeWidth":1.5},"encoding":{}}
 ]},
{"width":267,"height":128,"title":"Romeo","encoding":{"x":{"field":"t","type":"quantitative","scale":{"domain":[0,14]},"axis":{"values":[0,2,4,6,8,10,12,14],"format":"d","title":null,"labelOverlap":false}}},"layer":[
  {"data":{"name":"Romeo"},"mark":{"type":"area","color":"#d0a882","opacity":0.4},"encoding":{"y":{"field":"a","type":"quantitative","scale":{"domain":[-0.2,0.8]},"axis":{"values":[0,0.25,0.5,0.75],"format":".2f","title":null}},"y2":{"field":"b"}}},
  {"data":{"name":"Romeo"},"mark":{"type":"area","color":"#95b055","opacity":0.85},"encoding":{"y":{"field":"c","type":"quantitative"},"y2":{"field":"d"}}},
  {"data":{"name":"Romeo"},"mark":{"type":"line","color":"#2a8a5a","strokeWidth":1.5,"opacity":0.7},"encoding":{"y":{"field":"m","type":"quantitative"}}},
  {"data":{"values":[{"t":6.6}]},"mark":{"type":"rule","color":"#1f77b4","strokeWidth":1.5},"encoding":{}}
 ]},
{"width":267,"height":128,"title":"Juliet","encoding":{"x":{"field":"t","type":"quantitative","scale":{"domain":[0,14]},"axis":{"values":[0,2,4,6,8,10,12,14],"format":"d","title":"Lookback time (Gyr)","labelOverlap":false}}},"layer":[
  {"data":{"name":"Juliet"},"mark":{"type":"area","color":"#d0a882","opacity":0.4},"encoding":{"y":{"field":"a","type":"quantitative","scale":{"domain":[-0.2,0.8]},"axis":{"values":[0,0.25,0.5,0.75],"format":".2f","title":null}},"y2":{"field":"b"}}},
  {"data":{"name":"Juliet"},"mark":{"type":"area","color":"#95b055","opacity":0.85},"encoding":{"y":{"field":"c","type":"quantitative"},"y2":{"field":"d"}}},
  {"data":{"name":"Juliet"},"mark":{"type":"line","color":"#2a8a5a","strokeWidth":1.5,"opacity":0.7},"encoding":{"y":{"field":"m","type":"quantitative"}}},
  {"data":{"values":[{"t":4.45}]},"mark":{"type":"rule","color":"#1f77b4","strokeWidth":1.5},"encoding":{}}
 ]},
{"width":267,"height":128,"title":"m12b","encoding":{"x":{"field":"t","type":"quantitative","scale":{"domain":[0,14]},"axis":{"values":[0,2,4,6,8,10,12,14],"format":"d","title":"Lookback time (Gyr)","labelOverlap":false}}},"layer":[
  {"data":{"name":"m12b"},"mark":{"type":"area","color":"#d0a882","opacity":0.4},"encoding":{"y":{"field":"a","type":"quantitative","scale":{"domain":[-0.2,0.8]},"axis":{"values":[0,0.25,0.5,0.75],"format":".2f","title":"[O/Fe]"}},"y2":{"field":"b"}}},
  {"data":{"name":"m12b"},"mark":{"type":"area","color":"#95b055","opacity":0.85},"encoding":{"y":{"field":"c","type":"quantitative"},"y2":{"field":"d"}}},
  {"data":{"name":"m12b"},"mark":{"type":"line","color":"#2a8a5a","strokeWidth":1.5,"opacity":0.7},"encoding":{"y":{"field":"m","type":"quantitative"}}},
  {"data":{"values":[{"t":6.3}]},"mark":{"type":"rule","color":"#1f77b4","strokeWidth":1.5},"encoding":{}}
 ]},
{"width":267,"height":128,"title":"Romulus","encoding":{"x":{"field":"t","type":"quantitative","scale":{"domain":[0,14]},"axis":{"values":[0,2,4,6,8,10,12,14],"format":"d","title":"Lookback time (Gyr)","labelOverlap":false}}},"layer":[
  {"data":{"name":"Romulus"},"mark":{"type":"area","color":"#d0a882","opacity":0.4},"encoding":{"y":{"field":"a","type":"quantitative","scale":{"domain":[-0.2,0.8]},"axis":{"values":[0,0.25,0.5,0.75],"format":".2f","title":null}},"y2":{"field":"b"}}},
  {"data":{"name":"Romulus"},"mark":{"type":"area","color":"#95b055","opacity":0.85},"encoding":{"y":{"field":"c","type":"quantitative"},"y2":{"field":"d"}}},
  {"data":{"name":"Romulus"},"mark":{"type":"line","color":"#2a8a5a","strokeWidth":1.5,"opacity":0.7},"encoding":{"y":{"field":"m","type":"quantitative"}}},
  {"data":{"values":[{"t":4.85}]},"mark":{"type":"rule","color":"#1f77b4","strokeWidth":1.5},"encoding":{}}
 ]},
{"width":267,"height":128,"title":"Remus","encoding":{"x":{"field":"t","type":"quantitative","scale":{"domain":[0,14]},"axis":{"values":[0,2,4,6,8,10,12,14],"format":"d","title":"Lookback time (Gyr)","labelOverlap":false}}},"layer":[
  {"data":{"name":"Remus"},"mark":{"type":"area","color":"#d0a882","opacity":0.4},"encoding":{"y":{"field":"a","type":"quantitative","scale":{"domain":[-0.2,0.8]},"axis":{"values":[0,0.25,0.5,0.75],"format":".2f","title":null}},"y2":{"field":"b"}}},
  {"data":{"name":"Remus"},"mark":{"type":"area","color":"#95b055","opacity":0.85},"encoding":{"y":{"field":"c","type":"quantitative"},"y2":{"field":"d"}}},
  {"data":{"name":"Remus"},"mark":{"type":"line","color":"#2a8a5a","strokeWidth":1.5,"opacity":0.7},"encoding":{"y":{"field":"m","type":"quantitative"}}},
  {"data":{"values":[{"t":5.85}]},"mark":{"type":"rule","color":"#1f77b4","strokeWidth":1.5},"encoding":{}}
 ]}
]
}
